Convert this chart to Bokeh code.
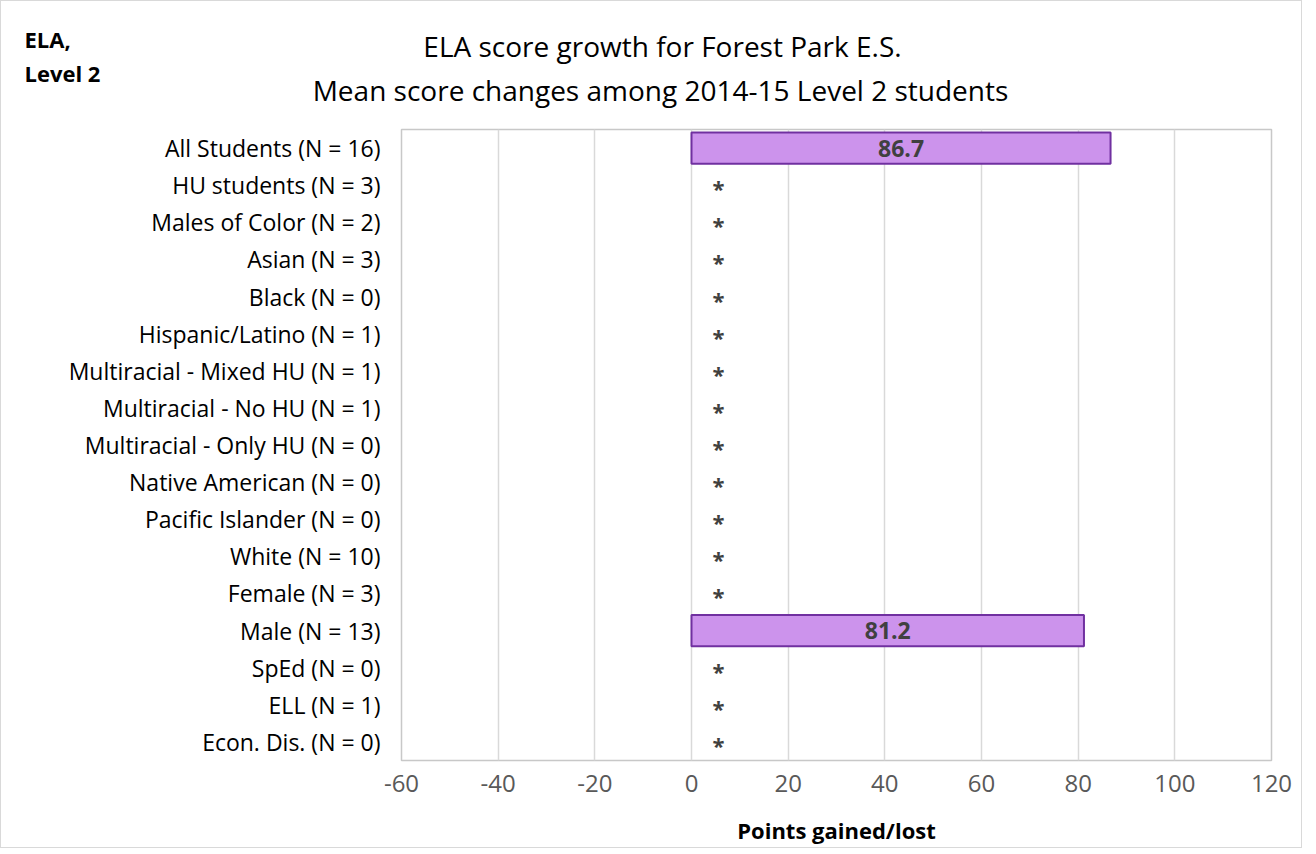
from bokeh.plotting import figure
from bokeh.layouts import column
from bokeh.models import ColumnDataSource, FactorRange, Range1d, FixedTicker
from bokeh.core.properties import value
from bokeh.embed import file_html
from bokeh.resources import INLINE

categories = [
    "All Students (N = 16)", "HU students (N = 3)", "Males of Color (N = 2)",
    "Asian (N = 3)", "Black (N = 0)", "Hispanic/Latino (N = 1)",
    "Multiracial - Mixed HU (N = 1)", "Multiracial - No HU (N = 1)",
    "Multiracial - Only HU (N = 0)", "Native American (N = 0)",
    "Pacific Islander (N = 0)", "White (N = 10)", "Female (N = 3)",
    "Male (N = 13)", "SpEd (N = 0)", "ELL (N = 1)", "Econ. Dis. (N = 0)",
]
values = [86.7, None, None, None, None, None, None, None, None, None, None,
          None, None, 81.2, None, None, None]
x_ticks = [-60, -40, -20, 0, 20, 40, 60, 80, 100, 120]
title_lines = ["ELA score growth for Forest Park E.S.",
               "Mean score changes among 2014-15 Level 2 students"]
corner_lines = ["ELA,", "Level 2"]

FONT = "Open Sans"
STAR_X = 5.6
W = 1300
HEAD_H = 126

# ---------- header (titles) ----------
head = figure(width=W, height=HEAD_H, output_backend="svg", toolbar_location=None,
              x_range=Range1d(0, W), y_range=Range1d(HEAD_H, 0),
              min_border=0, min_border_left=0, min_border_right=0,
              min_border_top=0, min_border_bottom=0)
head.frame_align = False
head.axis.visible = False
head.grid.visible = False
head.outline_line_color = None
head.text(x=[661, 659], y=[44, 88], text=title_lines, text_align="center",
          text_baseline="middle", text_font=value(FONT), text_font_size="28px",
          text_color="#000000")
head.text(x=[23, 23], y=[37, 71], text=corner_lines, text_align="left",
          text_baseline="middle", text_font=value(FONT), text_font_size="22px",
          text_font_style="bold", text_color="#000000")

# ---------- main chart ----------
bar_cat = [c for c, v in zip(categories, values) if v is not None]
bar_val = [v for v in values if v is not None]
bar_src = ColumnDataSource(dict(
    cat=bar_cat, val=bar_val, mid=[v / 2 for v in bar_val],
    lab=[f"{v:.1f}" for v in bar_val]))
star_cat = [c for c, v in zip(categories, values) if v is None]
star_src = ColumnDataSource(dict(cat=star_cat, x=[STAR_X] * len(star_cat),
                                 lab=["*"] * len(star_cat)))

p = figure(width=W, height=846 - HEAD_H, output_backend="svg", toolbar_location=None,
           y_range=FactorRange(*reversed(categories), range_padding=0),
           x_range=Range1d(-60, 120),
           min_border_left=400, min_border_right=30, min_border_top=2,
           min_border_bottom=87)
p.frame_align = False

p.hbar(y="cat", left=0, right="val", height=0.84, source=bar_src,
       fill_color="#CC93EC", line_color="#7030A0", line_width=2)
p.text(x="mid", y="cat", text="lab", source=bar_src, text_align="center",
       text_baseline="middle", text_font=value(FONT), text_font_style="bold",
       text_font_size="23px", text_color="#404040")
p.text(x="x", y="cat", text="lab", source=star_src, text_align="center",
       text_baseline="middle", text_font=value(FONT), text_font_style="bold",
       text_font_size="22px", text_color="#404040", y_offset=3)

p.outline_line_color = "#c8c8c8"
p.outline_line_width = 1.5
p.xgrid.grid_line_color = "#d9d9d9"
p.xgrid.grid_line_width = 1.5
p.ygrid.grid_line_color = None
p.xaxis.ticker = FixedTicker(ticks=x_ticks)
p.xaxis.major_label_overrides = {t: str(t) for t in x_ticks}

for ax in (p.xaxis[0], p.yaxis[0]):
    ax.axis_line_color = None
    ax.major_tick_line_color = None
    ax.minor_tick_line_color = None
    ax.major_label_text_font = FONT
p.xaxis.major_label_text_font_size = "24px"
p.yaxis.major_label_text_font_size = "23px"
p.xaxis.major_label_text_color = "#595959"
p.yaxis.major_label_text_color = "#000000"
p.xaxis.major_label_standoff = 8
p.yaxis.major_label_standoff = 15
p.xaxis.axis_label = "Points gained/lost"
p.xaxis.axis_label_text_font = FONT
p.xaxis.axis_label_text_font_style = "bold"
p.xaxis.axis_label_text_font_size = "22px"
p.xaxis.axis_label_text_color = "#000000"
p.xaxis.axis_label_standoff = 20

layout = column(head, p, spacing=0)
layout.styles = {"border": "1px solid #d9d9d9"}

open("out.html", "w").write(file_html(layout, INLINE))
